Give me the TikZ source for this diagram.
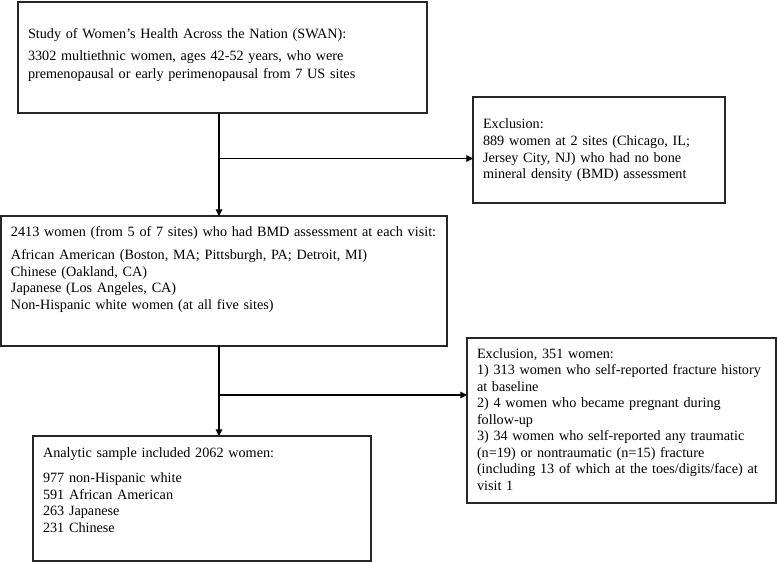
\documentclass[tikz,border=0pt]{standalone}
\usepackage{fontspec}
\setmainfont{Liberation Serif}
\usetikzlibrary{arrows.meta}
\tikzset{
  flowbox/.style={draw=black!85, line width=1.1pt, anchor=north west, align=left,
    inner xsep=7.5pt, inner ysep=0pt, outer sep=0pt,
    font=\fontsize{10.65}{12.4}\selectfont,
    execute at begin node={\hyphenpenalty=10000\relax}},
  boxsize/.style n args={3}{text width=#1, text height=#2, text depth=#3},
  flowline/.style={line width=0.8pt},
  flowarrow/.style={flowline, -{Triangle[length=5pt,width=5pt]}},
}
\begin{document}
\begin{tikzpicture}[x=0.75pt,y=-0.75pt]
\useasboundingbox (0,0) rectangle (777,563);
\node[flowbox, boxsize={291.75pt}{27.75pt}{55.5pt}, font=\fontsize{10.65}{13.5}\selectfont] (swan) at (18,2)
  {Study of Women’s Health Across the Nation (SWAN):\\[3pt]
   3302 multiethnic women, ages 42-52 years, who were\\
   premenopausal or early perimenopausal from 7 US sites};
\node[flowbox, boxsize={174pt}{24pt}{55.5pt}] (nobmd) at (473,97)
  {Exclusion:\\
   889 women at 2 sites (Chicago, IL;\\
   Jersey City, NJ) who had no bone\\
   mineral density (BMD) assessment};
\node[flowbox, boxsize={319.5pt}{15pt}{82.5pt}] (bmd) at (1,216)
  {2413 women (from 5 of 7 sites) who had BMD assessment at each visit:\\[5.5pt]
   African American (Boston, MA; Pittsburgh, PA; Detroit, MI)\\
   Chinese (Oakland, CA)\\
   Japanese (Los Angeles, CA)\\
   Non-Hispanic white women (at all five sites)};
\node[flowbox, boxsize={216.75pt}{15pt}{108.75pt}] (excl) at (467,338)
  {Exclusion, 351 women:\\
   1) 313 women who self-reported fracture history\\
   at baseline\\
   2) 4 women who became pregnant during\\
   follow-up\\
   3) 34 women who self-reported any traumatic\\
   (n=19) or nontraumatic (n=15) fracture\\
   (including 13 of which at the toes/digits/face) at\\
   visit 1};
\node[flowbox, boxsize={238.5pt}{15.75pt}{78pt}] (sample) at (33,436)
  {Analytic sample included 2062 women:\\[7pt]
   977 non-Hispanic white\\
   591 African American\\
   263 Japanese\\
   231 Chinese};
\coordinate (trunk) at (219,0);
\coordinate (fork1) at (219,158.5);
\coordinate (fork2) at (219,395);
\draw[flowarrow] (swan.south -| trunk) -- (bmd.north -| trunk);
\draw[flowarrow] (fork1) -- (fork1 -| nobmd.west);
\draw[flowarrow] (bmd.south -| trunk) -- (sample.north -| trunk);
\draw[flowarrow] (fork2) -- (fork2 -| excl.west);
\end{tikzpicture}
\end{document}
